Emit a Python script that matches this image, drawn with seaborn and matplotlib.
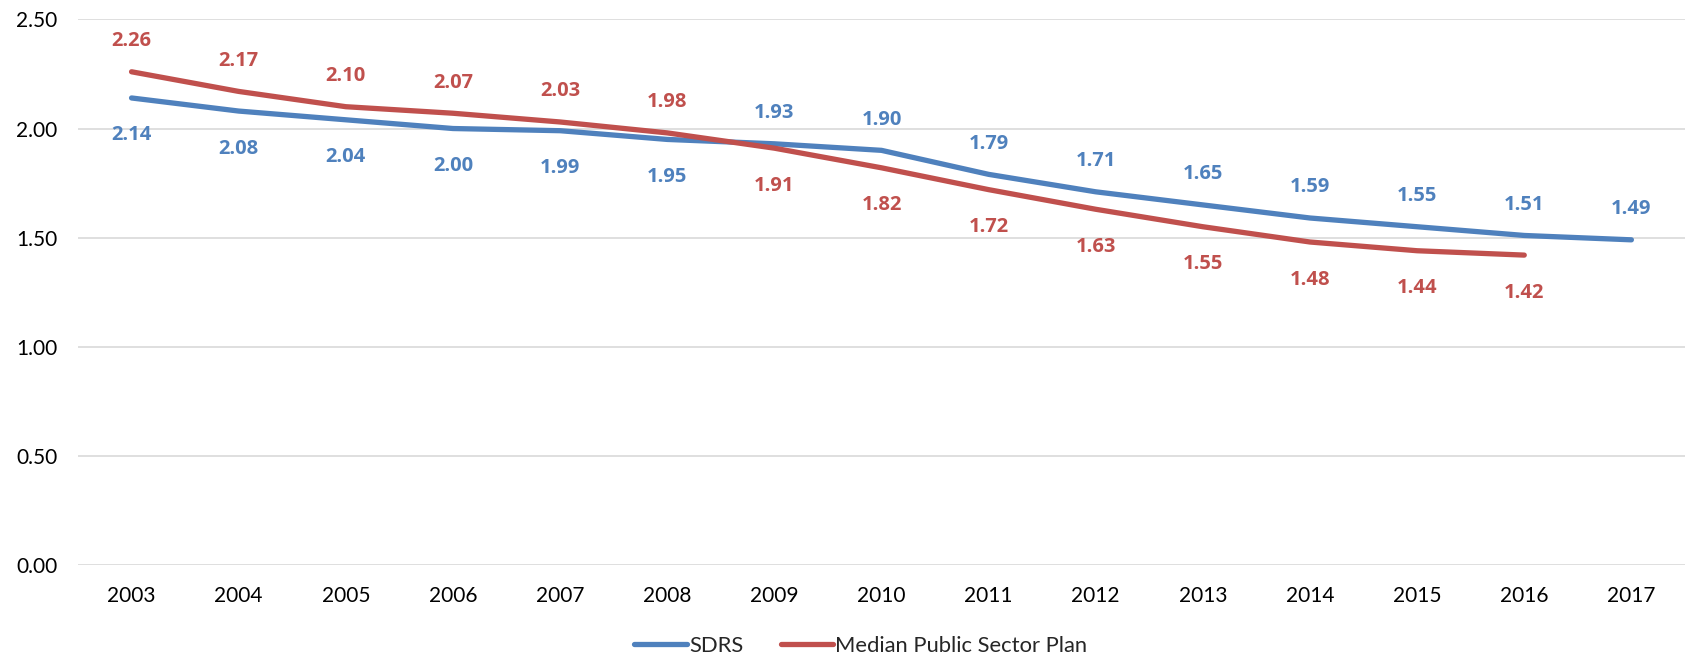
import numpy as np
import pandas as pd
import seaborn as sns
import matplotlib
matplotlib.use("Agg")
import matplotlib.pyplot as plt
from matplotlib.lines import Line2D

years = [2003, 2004, 2005, 2006, 2007, 2008, 2009, 2010, 2011, 2012, 2013, 2014, 2015, 2016, 2017]
sdrs = [2.14, 2.08, 2.04, 2.00, 1.99, 1.95, 1.93, 1.90, 1.79, 1.71, 1.65, 1.59, 1.55, 1.51, 1.49]
median = [2.26, 2.17, 2.10, 2.07, 2.03, 1.98, 1.91, 1.82, 1.72, 1.63, 1.55, 1.48, 1.44, 1.42, np.nan]
series_names = ["SDRS", "Median Public Sector Plan"]
yticks = [0.0, 0.5, 1.0, 1.5, 2.0, 2.5]

# label positions: +1 above, -1 below
sdrs_pos = [-1] * 6 + [1] * 9
median_pos = [1] * 6 + [-1] * 9

colors = ["#4F81BD", "#C0504D"]

sns.set_theme(style="white")
plt.rcParams['font.family'] = ['Lato', 'DejaVu Sans']

df = pd.DataFrame({
    "idx": list(range(len(years))) * 2,
    "value": sdrs + median,
    "series": [series_names[0]] * len(years) + [series_names[1]] * len(years),
})

fig = plt.figure(figsize=(16.88, 6.62), dpi=100)
ax = fig.add_axes([0.0462, 0.1465, 0.952, 0.8242])

sns.lineplot(data=df, x="idx", y="value", hue="series", palette=colors,
             linewidth=3.8, ax=ax, legend=False, solid_capstyle="round")

for vals, pos, c in [(sdrs, sdrs_pos, colors[0]), (median, median_pos, colors[1])]:
    for i, (v, p) in enumerate(zip(vals, pos)):
        if np.isnan(v):
            continue
        off = 22 if p > 0 else -27
        ax.annotate(f"{v:.2f}", (i, v), xytext=(0, off), textcoords="offset points",
                    ha="center", va="center", fontsize=14.5, fontweight="bold", color=c,
                    family=["Open Sans", "DejaVu Sans"])

ax.set_xlim(-0.5, len(years) - 0.5)
ax.set_ylim(0, 2.5)
ax.set_yticks(yticks)
ax.set_yticklabels([f"{t:.2f}" for t in yticks])
ax.set_xticks(range(len(years)))
ax.set_xticklabels([str(y) for y in years])
ax.tick_params(axis="both", length=0, labelsize=15, colors="#000000")
ax.tick_params(axis="y", pad=15)
ax.tick_params(axis="x", pad=15)
ax.yaxis.grid(True, color="#D9D9D9", linewidth=1.2)
ax.set_axisbelow(True)
for s in ax.spines.values():
    s.set_visible(False)
ax.set_xlabel("")
ax.set_ylabel("")

handles = [Line2D([0], [0], color=c, linewidth=3.8, solid_capstyle="round") for c in colors]
fig.legend(handles, series_names, loc="center", bbox_to_anchor=(0.51, 0.024), ncol=2,
           frameon=False, fontsize=15.8, handlelength=2.4, handletextpad=0.1, columnspacing=1.7)

fig.savefig("out.png", dpi=100)
